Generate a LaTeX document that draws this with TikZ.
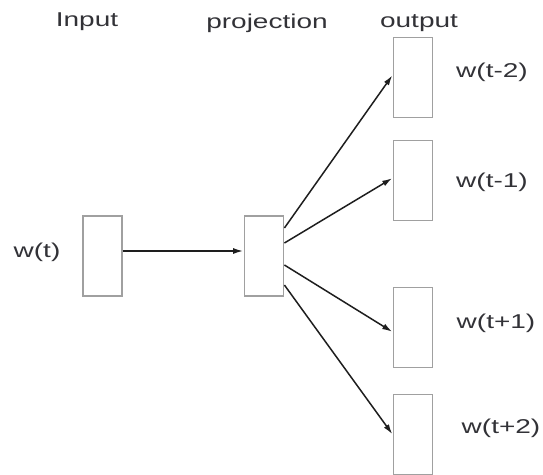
\documentclass[tikz,border=0pt]{standalone}
\usepackage{fontspec}
\setmainfont{Liberation Sans}
\usetikzlibrary{arrows.meta}
\definecolor{boxgray}{RGB}{160,160,160}
\definecolor{txtgray}{RGB}{50,50,55}
\definecolor{arrgray}{RGB}{30,30,30}
\newcommand{\lbl}[1]{\scalebox{1.4}[1]{#1}}
\begin{document}
\begin{tikzpicture}[x=1pt,y=-1pt,
  layer/.style={draw=boxgray,line width=1.8pt,minimum width=39pt,minimum height=80pt,inner sep=0pt,fill=white},
  txt/.style={text=txtgray,font=\fontsize{20}{20}\selectfont,inner sep=0pt},
  conn/.style={draw=arrgray,line width=1.5pt,-{Latex[length=10pt,width=6pt]},shorten >=0.5pt}]
\useasboundingbox (0,0) rectangle (543,474);
\node[txt] (hin) at (87,22) {\lbl{Input}};
\node[txt] (hproj) at (267,23) {\lbl{projection}};
\node[txt] (hout) at (419,23) {\lbl{output}};
\node[layer] (in) at (102.5,256) {};
\node[layer] (proj) at (264,256) {};
\node[layer] (o1) at (413,77.5) {};
\node[layer] (o2) at (413,180.5) {};
\node[layer] (o3) at (413,327.5) {};
\node[layer] (o4) at (413,434.5) {};
\node[txt] (lin) at (37,252) {\lbl{w(t)}};
\node[txt] (l1) at (492,72) {\lbl{w(t-2)}};
\node[txt] (l2) at (492,182) {\lbl{w(t-1)}};
\node[txt] (l3) at (496,323) {\lbl{w(t+1)}};
\node[txt] (l4) at (501,428) {\lbl{w(t+2)}};
\draw[conn] ([yshift=5pt]in.east) -- ([yshift=5pt]proj.west);
\draw[conn] ([yshift=28pt]proj.east) -- ([yshift=2.5pt]o1.west);
\draw[conn] ([yshift=13pt]proj.east) -- ([yshift=2.5pt]o2.west);
\draw[conn] ([yshift=-9pt]proj.east) -- ([yshift=-4.5pt]o3.west);
\draw[conn] ([yshift=-29pt]proj.east) -- ([yshift=0pt]o4.west);
\end{tikzpicture}
\end{document}
